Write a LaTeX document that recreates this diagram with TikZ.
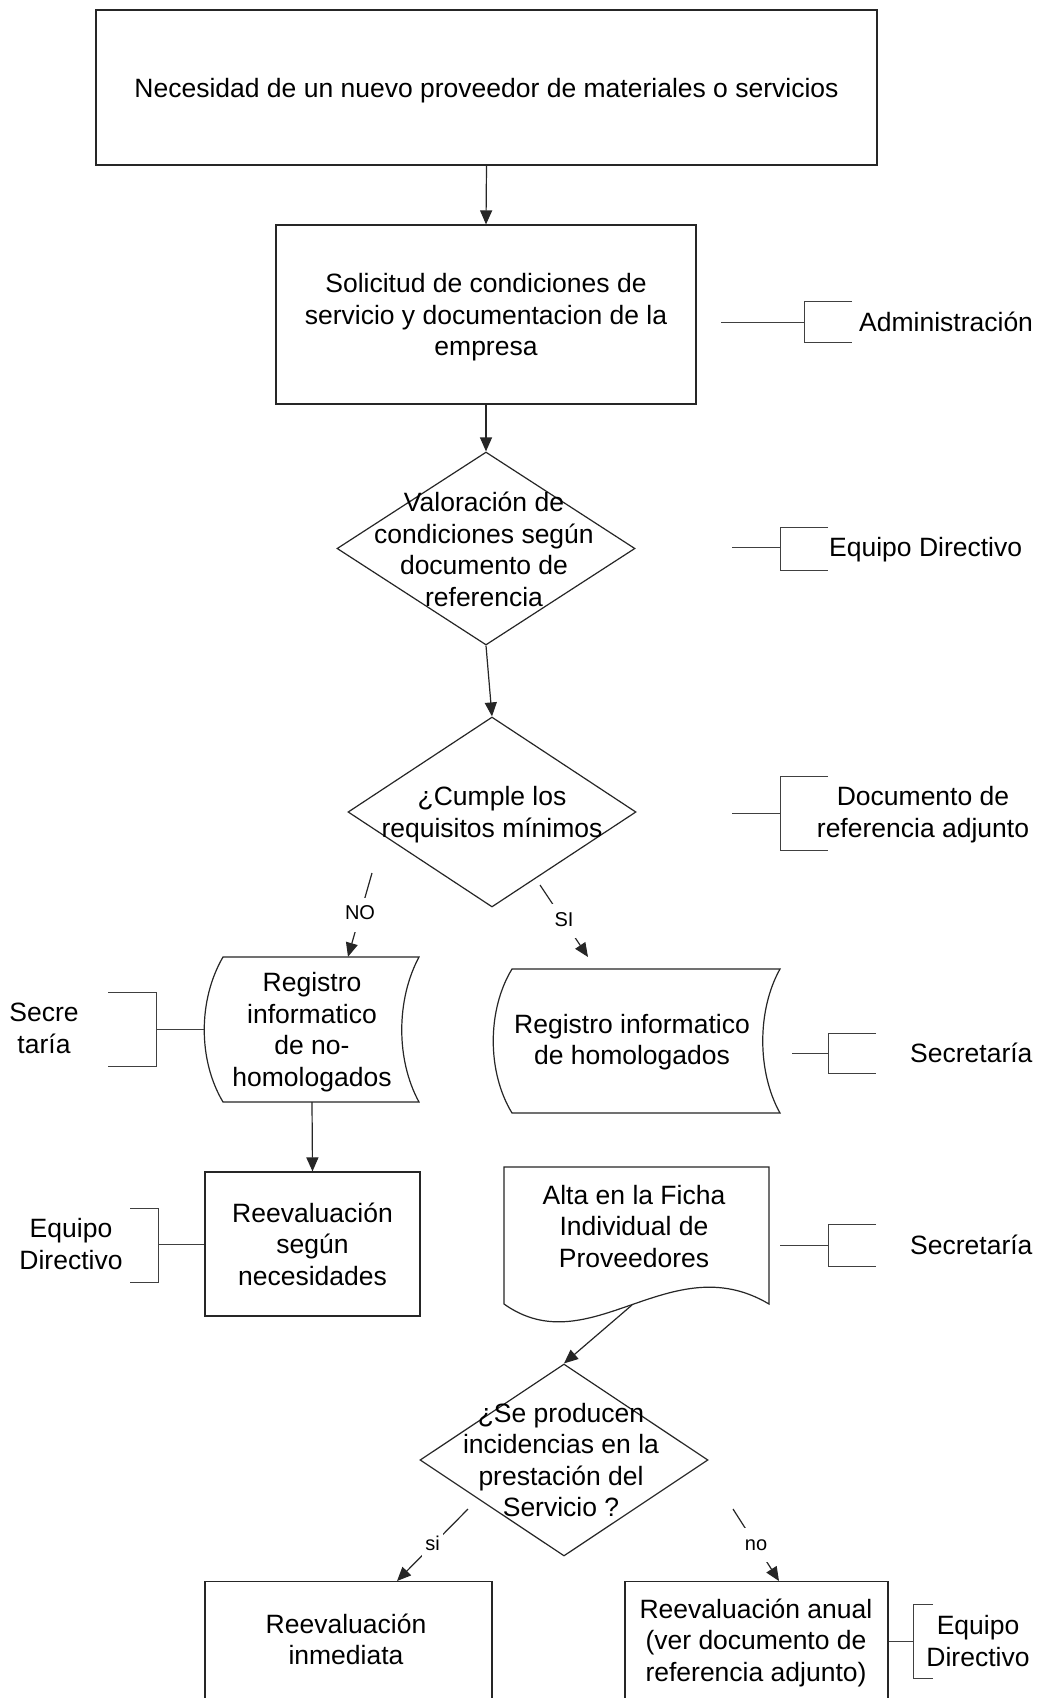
\documentclass[tikz,border=0pt]{standalone}
\usepackage{fontspec}
\setmainfont{Liberation Sans}
\usetikzlibrary{arrows.meta,shapes.geometric}
\begin{document}
\begin{tikzpicture}[x=1pt,y=-1pt,
  outl/.style={draw=black!85, line width=1.2pt},
  txt/.style={align=center, font=\fontsize{26.5}{31.5}\selectfont, inner sep=0pt, text depth=0pt},
  box/.style={outl, rectangle, inner sep=0pt, txt},
  dia/.style={outl, diamond, inner sep=0pt},
  ghost/.style={rectangle, inner sep=0pt, txt},
  lbl/.style={font=\fontsize{20}{24}\selectfont, fill=white, text height=14pt, text depth=4pt, inner xsep=3pt, inner ysep=8pt},
  arr/.style={line width=1.2pt, draw=black!85, -{Triangle[length=14pt,width=12pt]}},
  brk/.style={line width=1pt, draw=black!75}
]
\fill[white] (0,0) rectangle (1037,1698);
\useasboundingbox (0,0) rectangle (1037,1698);

% main flow
\node[box, minimum width=781pt, minimum height=155pt] (n1) at (486.5,87.5)
  {Necesidad de un nuevo proveedor de materiales o servicios};
\node[box, minimum width=420pt, minimum height=179pt] (n2) at (486,314.5)
  {Solicitud de condiciones de\\servicio y documentacion de la\\empresa};
\node[dia, minimum width=298pt, minimum height=193pt] (d1) at (486,548.5) {};
\node[txt] (t1) at (484,549) {Valoración de\\condiciones según\\documento de\\referencia};
\node[dia, minimum width=288pt, minimum height=190pt] (d2) at (492,812) {};
\node[txt] (t2) at (492,812) {¿Cumple los\\requisitos mínimos};

% stored data shapes
\draw[outl] (223,957) -- (419,957) .. controls (396,1000) and (396,1060) .. (419,1102)
  -- (223,1102) .. controls (198,1060) and (198,1000) .. (223,957) -- cycle;
\node[ghost, minimum width=196pt, minimum height=145pt] (sd1) at (312,1029.5)
  {Registro\\informatico\\de no-\\homologados};
\draw[outl] (512,969) -- (780,969) .. controls (757,1010) and (757,1072) .. (780,1113)
  -- (512,1113) .. controls (487,1072) and (487,1010) .. (512,969) -- cycle;
\node[ghost, minimum width=268pt, minimum height=144pt] (sd2) at (646,1041) {};
\node[txt] (t3) at (632,1039.5) {Registro informatico\\de homologados};

\node[box, minimum width=215pt, minimum height=144pt] (rb1) at (312.5,1244)
  {Reevaluación\\según\\necesidades};

% document shape
\draw[outl] (504,1167) -- (769,1167) -- (769,1304) .. controls (670,1245) and (590,1365) .. (504,1304) -- cycle;
\node[ghost, minimum width=265pt, minimum height=137pt] (doc) at (634,1226)
  {Alta en la Ficha\\Individual de\\Proveedores};
\coordinate (docw) at (632,1305);

\node[dia, minimum width=288pt, minimum height=192pt] (d3) at (564,1460) {};
\node[txt] (t4) at (561,1460) {¿Se producen\\incidencias en la\\prestación del\\Servicio ?};

\node[outl, rectangle, inner sep=0pt, minimum width=287pt, minimum height=160pt, anchor=north] (rb2) at (348.5,1581) {};
\node[txt] (t5) at (346,1639) {Reevaluación\\inmediata};
\node[outl, rectangle, inner sep=0pt, minimum width=263pt, minimum height=160pt, anchor=north] (rb3) at (756.5,1581) {};
\node[txt] (t6) at (756,1640) {Reevaluación anual\\(ver documento de\\referencia adjunto)};

% connectors
\draw[arr] (n1.south) -- (n2.north);
\draw[arr] (n2.south) -- (d1.north);
\draw[arr] (d1.south) -- (d2.north);
\coordinate (noS) at (372,873);
\draw[arr] (noS) -- node[lbl] {NO} ([xshift=36pt]sd1.north);
\coordinate (siS) at (540,885);
\coordinate (siE) at (588,957);
\draw[arr] (siS) -- node[lbl] {SI} (siE);
\draw[arr] (sd1.south) -- (rb1.north);
\draw[arr] (docw) -- (d3.north);
\coordinate (siS2) at (468,1509);
\draw[arr] (siS2) -- node[lbl] {si} ([xshift=48.5pt]rb2.north);
\coordinate (noS2) at (733,1509);
\draw[arr] (noS2) -- node[lbl] {no} ([xshift=22.5pt]rb3.north);

% annotation brackets
\draw[brk] (721,322) -- (804,322) (852,301) -- (804,301) -- (804,342) -- (852,342);
\node[txt, anchor=west] (adm) at (859,322) {Administración};

\draw[brk] (732,547) -- (780,547) (828,527) -- (780,527) -- (780,570) -- (828,570);
\node[txt, anchor=west] (ed1) at (829,547) {Equipo Directivo};

\draw[brk] (732,813) -- (780,813) (828,776) -- (780,776) -- (780,850) -- (828,850);
\node[txt] (docref) at (923,812) {Documento de\\referencia adjunto};

\draw[brk] (792,1053) -- (828,1053) (876,1033) -- (828,1033) -- (828,1073) -- (876,1073);
\node[txt, anchor=west] (sec1) at (910,1053) {Secretaría};

\draw[brk] (780,1245) -- (828,1245) (876,1224) -- (828,1224) -- (828,1266) -- (876,1266);
\node[txt, anchor=west] (sec2) at (910,1245) {Secretaría};

\draw[brk] (204,1029) -- (156,1029) (108,992) -- (156,992) -- (156,1066) -- (108,1066);
\node[txt] (sec3) at (44,1028) {Secre\\taría};

\draw[brk] (rb1.west) -- (158,1244) (130,1208) -- (158,1208) -- (158,1282) -- (130,1282);
\node[txt] (ed2) at (71,1244) {Equipo\\Directivo};

\draw[brk] (rb3.east |- 0,1641) -- (913,1641) (933,1604) -- (913,1604) -- (913,1678) -- (933,1678);
\node[txt] (ed3) at (978,1641) {Equipo\\Directivo};
\end{tikzpicture}
\end{document}
